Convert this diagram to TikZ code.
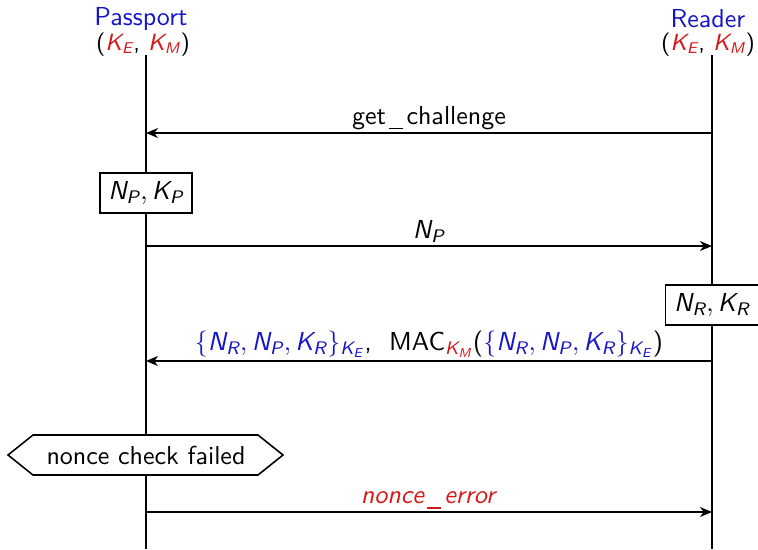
\documentclass[tikz,border=0pt]{standalone}
\usepackage{amsmath}
\usetikzlibrary{arrows.meta}
\renewcommand\familydefault{\sfdefault}
\definecolor{nameblue}{RGB}{20,20,200}
\definecolor{keyred}{RGB}{215,25,25}
\newcommand\mi[1]{\textit{#1}}
\newcommand\usc{\kern1.3pt\rule[-2pt]{5.3pt}{0.5pt}\kern1.3pt}
\newcommand\enc{\textcolor{nameblue}{$\{\mi{N}_{\mi{R}}, \mi{N}_{\mi{P}}, \mi{K}_{\mi{R}}\}_{\mi{K}_{\mi{E}}}$}}
\begin{document}
\begin{tikzpicture}[x=0.3846pt,y=-0.3846pt,
  lifeline/.style={line width=0.6pt},
  msg/.style={line width=0.6pt,-{Stealth[length=4.6pt,width=3.8pt,inset=1.4pt]}},
  actor/.style={text=nameblue,inner sep=0pt},
  keys/.style={font=\small,inner sep=0pt},
  statebox/.style={draw,fill=white,line width=0.6pt,inner sep=3.3pt,minimum height=15.5pt},
  lbl/.style={above,inner sep=1pt}]
\useasboundingbox (0,0) rectangle (758,549);
% headers
\node[actor] (pp) at (141,19) {Passport};
\node[keys] (ppk) at (143,45) {($\textcolor{keyred}{\mi{K}_{\mi{E}}}$, $\textcolor{keyred}{\mi{K}_{\mi{M}}}$)};
\node[actor] (rd) at (708,19) {Reader};
\node[keys] (rdk) at (708,45) {($\textcolor{keyred}{\mi{K}_{\mi{E}}}$, $\textcolor{keyred}{\mi{K}_{\mi{M}}}$)};
% lifelines
\coordinate (ppTop) at (146,55);
\coordinate (ppBot) at (146,549);
\coordinate (rdTop) at (712,55);
\coordinate (rdBot) at (712,549);
\draw[lifeline] (ppTop) -- (ppBot);
\draw[lifeline] (rdTop) -- (rdBot);
% message points
\coordinate (r1) at (712,133); \coordinate (p1) at (146,133);
\coordinate (p2) at (146,246); \coordinate (r2) at (712,246);
\coordinate (r3) at (712,361); \coordinate (p3) at (146,361);
\coordinate (p4) at (146,512); \coordinate (r4) at (712,512);
% messages
\draw[msg] (r1) -- node[lbl] (m1) {get\usc challenge} (p1);
\node[statebox] (bp) at (146,193) {$\mi{N}_{\mi{P}}, \mi{K}_{\mi{P}}$};
\draw[msg] (p2) -- node[lbl] (m2) {$\mi{N}_{\mi{P}}$} (r2);
\node[statebox] (br) at (712,305) {$\mi{N}_{\mi{R}}, \mi{K}_{\mi{R}}$};
\draw[msg] (r3) -- node[lbl] (m3) {\enc,\ \ MAC$_{\textcolor{keyred}{\mi{K}_{\mi{M}}}}$(\enc)} (p3);
% failure state
\coordinate (hL) at (8,455); \coordinate (hTL) at (33,435); \coordinate (hTR) at (258,435);
\coordinate (hR) at (283,455); \coordinate (hBR) at (258,475); \coordinate (hBL) at (33,475);
\draw[line width=0.6pt,fill=white] (hL) -- (hTL) -- (hTR) -- (hR) -- (hBR) -- (hBL) -- cycle;
\node (fail) at (146,455) {nonce check failed};
\draw[msg] (p4) -- node[lbl] (m4) {\textcolor{keyred}{\textit{nonce\usc error}}} (r4);
\end{tikzpicture}
\end{document}
